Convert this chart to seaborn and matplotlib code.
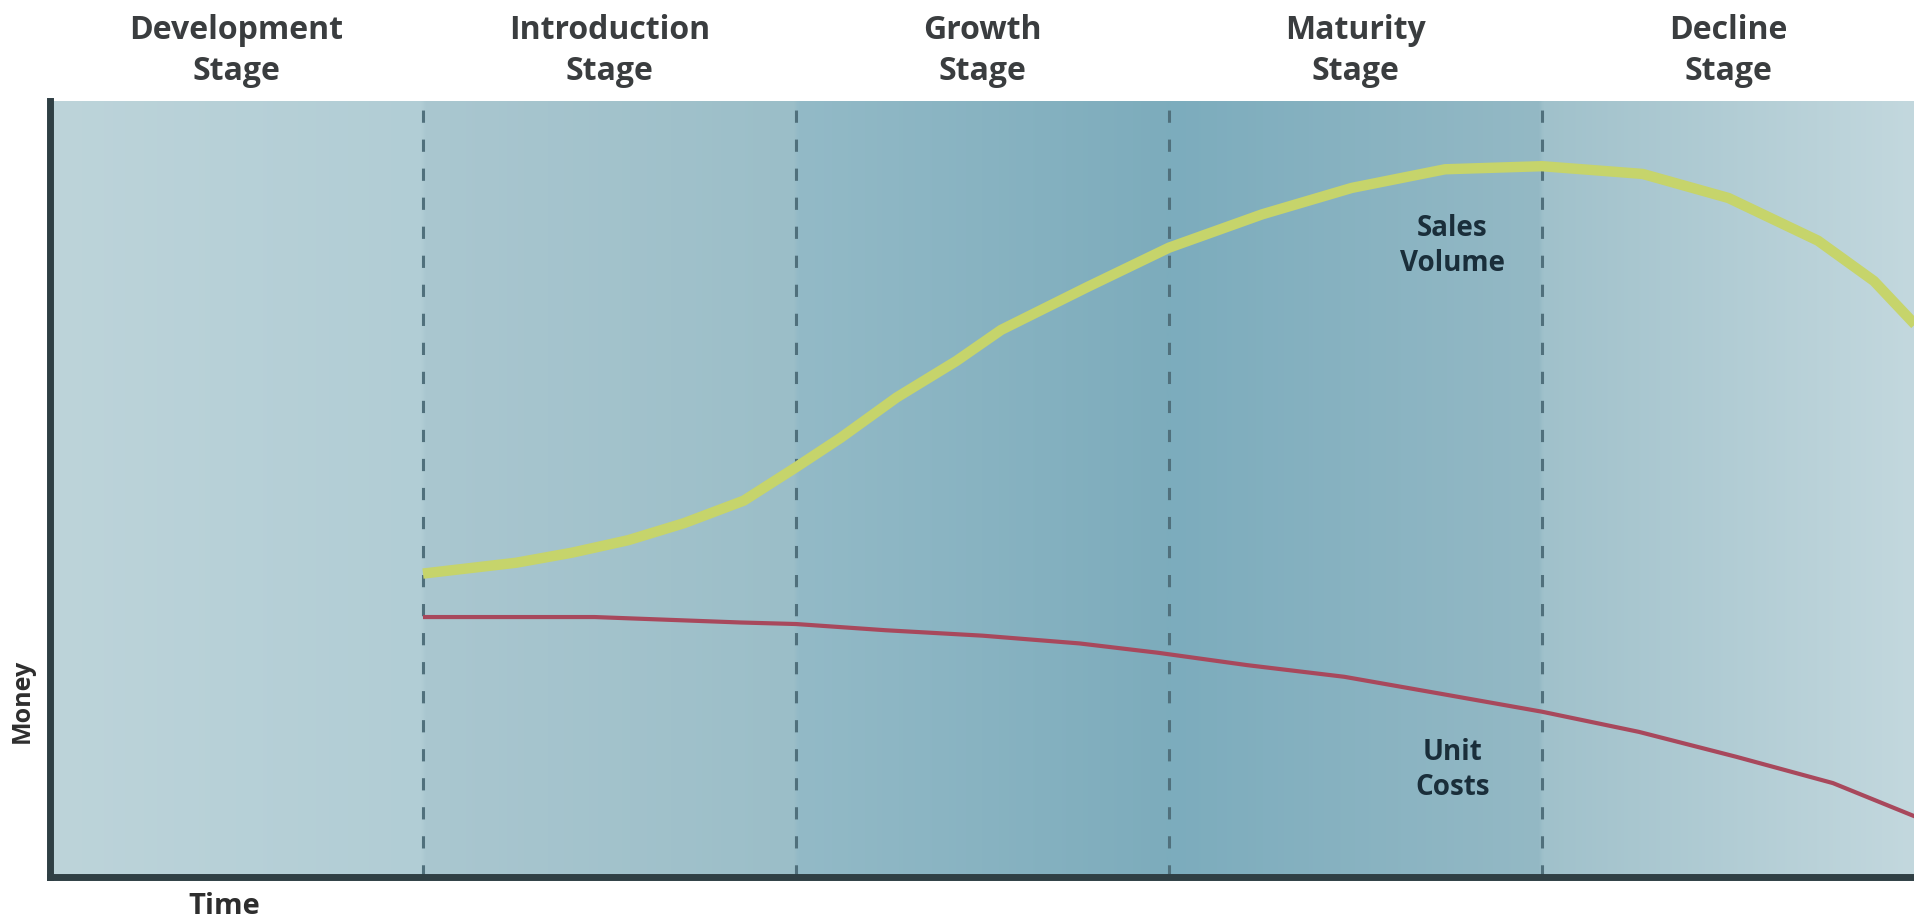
import numpy as np
import pandas as pd
import seaborn as sns
import matplotlib
matplotlib.use("Agg")
import matplotlib.pyplot as plt
from matplotlib.colors import LinearSegmentedColormap
import matplotlib.transforms as mtransforms

# ---------------- data ----------------
stages = ["Development\nStage", "Introduction\nStage", "Growth\nStage",
          "Maturity\nStage", "Decline\nStage"]
stage_bounds = [1, 2, 3, 4]

sales_time = [1.0, 1.25, 1.4, 1.55, 1.7, 1.86, 2.0, 2.12, 2.27, 2.43, 2.55,
              2.78, 3.0, 3.25, 3.49, 3.74, 4.0, 4.27, 4.5, 4.74, 4.89, 5.0]
sales_volume = [39.1, 40.5, 41.8, 43.4, 45.6, 48.5, 52.8, 56.6, 61.8, 66.5,
                70.5, 76.0, 81.1, 85.4, 88.8, 91.2, 91.6, 90.6, 87.5, 82.0,
                76.8, 71.2]

cost_time = [1.0, 1.46, 1.85, 2.0, 2.24, 2.5, 2.76, 2.97, 3.21, 3.47, 3.73,
             4.0, 4.26, 4.52, 4.78, 5.0]
unit_costs = [33.5, 33.5, 32.8, 32.6, 31.8, 31.1, 30.1, 28.9, 27.3, 25.8,
              23.6, 21.3, 18.7, 15.5, 12.1, 7.8]

series_labels = ["Sales\nVolume", "Unit\nCosts"]
x_label = "Time"
y_label = "Money"

df = pd.concat([
    pd.DataFrame({"time": sales_time, "value": sales_volume,
                  "series": "Sales Volume"}),
    pd.DataFrame({"time": cost_time, "value": unit_costs,
                  "series": "Unit Costs"}),
], ignore_index=True)

# ---------------- figure ----------------
sns.set_theme(style="white")
plt.rcParams["font.family"] = ["Open Sans", "DejaVu Sans"]

W, H = 1915, 922
fig = plt.figure(figsize=(W / 100, H / 100), dpi=100)
ax_left, ax_bottom = 50 / W, 45 / H
ax_top = 1 - 101 / H
ax = fig.add_axes([ax_left, ax_bottom, 1 - ax_left, ax_top - ax_bottom])

# background gradient (stage-wise horizontal shading)
stops = [
    (0.00, "#bdd4da"), (0.199, "#b1cdd5"),
    (0.201, "#aac7d0"), (0.399, "#9bbec8"),
    (0.401, "#93bac7"), (0.599, "#7dacbc"),
    (0.601, "#7cacbd"), (0.799, "#94b9c5"),
    (0.801, "#a0c1cb"), (1.00, "#c3d8de"),
]
cmap = LinearSegmentedColormap.from_list("bg", stops, N=1024)
grad = np.linspace(0, 1, 1024)[None, :]
ax.imshow(grad, cmap=cmap, extent=[0, 5, 0, 100], aspect="auto",
          zorder=0, interpolation="bilinear")

# stage boundaries
for b in stage_bounds:
    ax.axvline(b, color="#50707c", lw=2.2, ls=(0, (4, 5.5)), zorder=1)

# curves
sns.lineplot(data=df, x="time", y="value", hue="series",
             palette={"Sales Volume": "#c6d46b", "Unit Costs": "#a8485c"},
             size="series", sizes={"Sales Volume": 7.5, "Unit Costs": 3.0},
             legend=False, ax=ax, zorder=3)
for ln in ax.get_lines():
    ln.set_solid_capstyle("butt")
    ln.set_solid_joinstyle("round")

ax.set_xlim(0, 5)
ax.set_ylim(0, 100)
ax.set_xticks([])
ax.set_yticks([])

for side in ["top", "right"]:
    ax.spines[side].set_visible(False)
for side in ["left", "bottom"]:
    ax.spines[side].set_color("#2f3f44")
    ax.spines[side].set_linewidth(5)

# stage labels above the plot
trans = mtransforms.blended_transform_factory(ax.transData, fig.transFigure)
for i, s in enumerate(stages):
    ax.text(i + 0.5, 1 - 51 / H, s, transform=trans, ha="center", va="center",
            fontsize=23, fontweight="bold", color="#3a3d3f", linespacing=1.3)

# curve labels
ax.text(3.76, 81.3, series_labels[0], ha="center", va="center", fontsize=20,
        fontweight="bold", color="#1a2e3a", linespacing=1.25, zorder=4)
ax.text(3.76, 13.8, series_labels[1], ha="center", va="center", fontsize=20,
        fontweight="bold", color="#1a2e3a", linespacing=1.25, zorder=4)

# axis labels
ax.set_xlabel(x_label, fontsize=21, fontweight="bold", color="#2e2e2e")
ax.xaxis.set_label_coords((224 - 50) / (W - 50), (876 - 905) / 776)
ax.xaxis.label.set_va("center")
ax.set_ylabel(y_label, fontsize=18, fontweight="bold", color="#2e2e2e")
ax.yaxis.set_label_coords((22 - 50) / (W - 50), (876 - 700) / 776)
ax.yaxis.label.set_va("center")

fig.savefig("out.png", dpi=100)
